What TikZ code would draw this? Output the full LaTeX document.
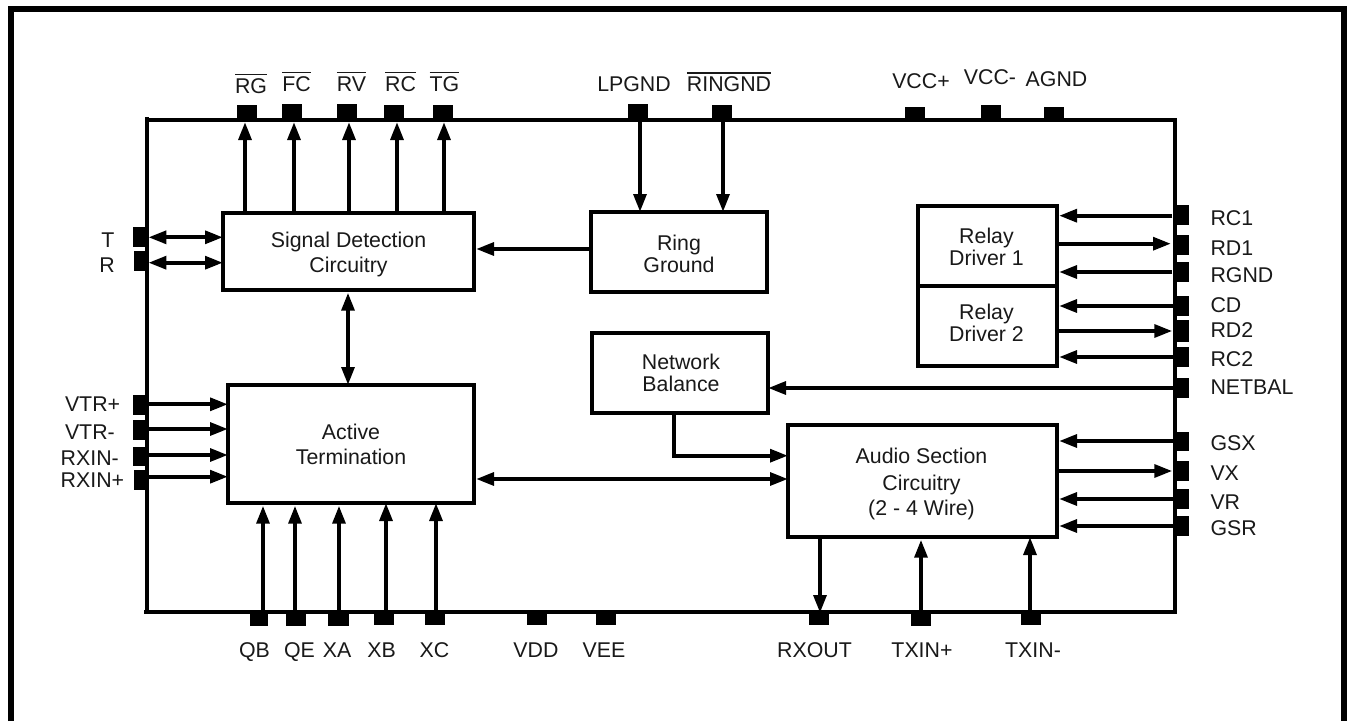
\documentclass[tikz,border=0pt]{standalone}
\usepackage{fontspec}
\setmainfont{Liberation Sans}
\usetikzlibrary{arrows.meta,calc}
\newcommand{\ovl}[1]{\vbox{\hrule height 0.85pt\kern 2.3pt\hbox{#1}}}
\tikzset{
  x=0.75pt,y=-0.75pt,
  every node/.style={font=\fontsize{16}{18.8}\selectfont,text=black!90,align=center,inner sep=0pt,outer sep=0pt},
  tight/.style={font=\fontsize{16}{16.5}\selectfont},
  block/.style={draw=black,line width=3pt,fill=white,anchor=north west},
  pinbox/.style={fill=black,draw=none,minimum width=0pt,minimum height=0pt,anchor=north west},
  conn/.style={line width=3pt,draw=black},
  one/.style={conn,-{Triangle[length=13.5pt,width=9.5pt]}},
  oneg/.style={one,shorten >=1.5pt},
  two/.style={conn,{Triangle[length=13.5pt,width=9.5pt]}-{Triangle[length=13.5pt,width=9.5pt]}},
}
\newcommand{\pinat}[5]{\node[pinbox,minimum width=#4*0.75pt,minimum height=#5*0.75pt] (#1) at (#2,#3) {};}
\newcommand{\blk}[5]{\node[block,minimum width=#4*0.75pt,minimum height=#5*0.75pt] (#1) at (#2,#3) {};}
\begin{document}
\begin{tikzpicture}
\useasboundingbox (0,0) rectangle (1349,721);
\fill[white] (0,0) rectangle (1349,721);
% outer frame
\draw[line width=4.5pt,draw=black] (11,721) -- (11,9) -- (1344,9) -- (1344,721);
% chip outline
\draw[line width=3pt] (145,120) -- (1177,120);
\draw[line width=3pt] (144,612) -- (1177,612);
\draw[line width=3pt] (147,117) -- (147,614);
\draw[line width=3pt] (1175,118) -- (1175,614);
% blocks
\blk{sd}{223}{213}{251}{77}
\blk{rg}{591}{212}{176}{80}
\blk{at}{228}{385}{246}{118}
\blk{nb}{592}{333}{176}{80}
\blk{as}{788}{425}{269}{112}
\blk{ra}{918}{206}{139}{80}
\blk{rb}{918}{286}{139}{80}
\node (tsd) at ([yshift=-2.6*0.75pt]sd.center) {Signal Detection\\Circuitry};
\node[tight] (trg) at ([yshift=-1.7*0.75pt]rg.center) {Ring\\Ground};
\node (tat) at ([yshift=-0.4*0.75pt]at.center) {Active\\Termination};
\node[tight] (tnb) at ([xshift=0.75pt,yshift=-0.3*0.75pt]nb.center) {Network\\Balance};
\node (tas) at ([xshift=-0.75pt,yshift=-3*0.75pt]as.center) {Audio Section\\[1.5pt]Circuitry\\(2 - 4 Wire)};
\node[tight] (tra) at ([xshift=-0.75pt,yshift=-1*0.75pt]ra.center) {Relay\\Driver 1};
\node[tight] (trb) at ([xshift=-0.75pt,yshift=3*0.75pt]rb.center) {Relay\\Driver 2};
% top pins
\pinat{pRG}{237}{105}{20}{15}
\pinat{pFC}{282}{104}{20}{16}
\pinat{pRV}{337}{104}{20}{16}
\pinat{pRC}{384}{105}{20}{15}
\pinat{pTG}{433}{105}{20}{15}
\pinat{pLP}{628}{104}{20}{16}
\pinat{pRN}{712}{105}{20}{15}
\pinat{pVP}{905}{107}{20}{13}
\pinat{pVM}{981}{105}{20}{15}
\pinat{pAG}{1044}{107}{20}{13}
% left pins
\pinat{pT}{133}{227}{14}{20}
\pinat{pR}{134}{251}{13}{20}
\pinat{pVa}{133}{395}{14}{20}
\pinat{pVb}{133}{420}{14}{20}
\pinat{pXm}{133}{447}{14}{19}
\pinat{pXp}{134}{470}{13}{20}
% bottom pins
\pinat{pQB}{250}{613}{18}{13}
\pinat{pQE}{286}{613}{20}{13}
\pinat{pXA}{328}{613}{21}{13}
\pinat{pXB}{374}{613}{20}{12}
\pinat{pXC}{425}{613}{20}{12}
\pinat{pVD}{527}{612}{20}{13}
\pinat{pVE}{596}{612}{20}{13}
\pinat{pRO}{809}{613}{20}{12}
\pinat{pTP}{911}{613}{20}{13}
\pinat{pTM}{1021}{613}{20}{12}
% right pins
\pinat{pC1}{1175}{205}{14}{20}
\pinat{pD1}{1175}{235}{14}{20}
\pinat{pGN}{1175}{262}{14}{20}
\pinat{pCD}{1175}{296}{14}{20}
\pinat{pD2}{1175}{320}{14}{22}
\pinat{pC2}{1175}{347}{14}{20}
\pinat{pNB}{1175}{378}{14}{20}
\pinat{pGX}{1175}{432}{14}{19}
\pinat{pVX}{1175}{461}{14}{20}
\pinat{pVR}{1175}{489}{14}{20}
\pinat{pGR}{1175}{516}{14}{20}
% top labels
\node[anchor=base] (lRG) at (251,93) {\ovl{RG}};
\node[anchor=base] (lFC) at (296.5,91) {\ovl{FC}};
\node[anchor=base] (lRV) at (351.5,91) {\ovl{RV}};
\node[anchor=base] (lRC) at (400.5,91) {\ovl{RC}};
\node[anchor=base] (lTG) at (444.5,91) {\ovl{TG}};
\node[anchor=base] (lLP) at (634,91) {LPGND};
\node[anchor=base] (lRN) at (729,91.5) {\ovl{RINGND}};
\node[anchor=base] (lVP) at (921,88) {VCC+};
\node[anchor=base] (lVM) at (990,84.5) {VCC-};
\node[anchor=base] (lAG) at (1056.5,86) {AGND};
% left labels
\node[anchor=base] (lT) at (108,247) {T};
\node[anchor=base] (lR) at (107,272) {R};
\node[anchor=base west] (lVa) at (65,411) {VTR+};
\node[anchor=base west] (lVb) at (65,439) {VTR-};
\node[anchor=base west] (lXm) at (60.7,465.7) {RXIN-};
\node[anchor=base west] (lXp) at (60.7,487.7) {RXIN+};
% bottom labels
\node[anchor=base] (lQB) at (254.5,657) {QB};
\node[anchor=base] (lQE) at (299.5,657) {QE};
\node[anchor=base] (lXA) at (337,657) {XA};
\node[anchor=base] (lXB) at (381.5,657) {XB};
\node[anchor=base] (lXC) at (434.5,657) {XC};
\node[anchor=base] (lVD) at (536,657) {VDD};
\node[anchor=base] (lVE) at (604,657) {VEE};
\node[anchor=base] (lRO) at (814.5,657) {RXOUT};
\node[anchor=base] (lTP) at (922,657) {TXIN+};
\node[anchor=base] (lTM) at (1033,657) {TXIN-};
% right labels
\node[anchor=base west] (lC1) at (1210.5,225) {RC1};
\node[anchor=base west] (lD1) at (1210.5,255) {RD1};
\node[anchor=base west] (lGN) at (1210.5,282.5) {RGND};
\node[anchor=base west] (lCD) at (1210.5,312.7) {CD};
\node[anchor=base west] (lD2) at (1210.5,337.7) {RD2};
\node[anchor=base west] (lC2) at (1210.5,366.7) {RC2};
\node[anchor=base west] (lNB) at (1210.5,394) {NETBAL};
\node[anchor=base west] (lGX) at (1210.5,450) {GSX};
\node[anchor=base west] (lVX) at (1210.5,480.7) {VX};
\node[anchor=base west] (lVR) at (1210.5,509) {VR};
\node[anchor=base west] (lGR) at (1210.5,535.7) {GSR};
% SD up connectors
\coordinate (cRG) at (245,122);
\coordinate (cFC) at (294,122);
\coordinate (cRV) at (349,122);
\coordinate (cRC) at (397,122);
\coordinate (cTG) at (444,122);
\foreach \c in {cRG,cFC,cRV,cRC,cTG} \draw[one] (sd.north -| \c) -- (\c);
% T R
\coordinate (yT) at (190,237.3);
\coordinate (yR) at (190,262.7);
\draw[two,shorten <=1pt] (pT.east |- yT) -- (sd.west |- yT);
\draw[two,shorten <=1pt] (pR.east |- yR) -- (sd.west |- yR);
% ring ground
\coordinate (cLP) at (640,150);
\coordinate (cRN) at (723,150);
\coordinate (cRS) at (530,249);
\draw[one] (pLP.south -| cLP) -- (rg.north -| cLP);
\draw[one] (pRN.south -| cRN) -- (rg.north -| cRN);
\draw[oneg] (rg.west |- cRS) -- (sd.east |- cRS);
% SD - AT
\coordinate (cSA) at (348,340);
\draw[two,shorten <=2pt] (sd.south -| cSA) -- (at.north -| cSA);
% left inputs
\coordinate (yVa) at (190,404.3);
\coordinate (yVb) at (190,429);
\coordinate (yXm) at (190,455);
\coordinate (yXp) at (190,476.7);
\draw[one] (pVa.east |- yVa) -- (at.west |- yVa);
\draw[one] (pVb.east |- yVb) -- (at.west |- yVb);
\draw[one] (pXm.east |- yXm) -- (at.west |- yXm);
\draw[one] (pXp.east |- yXp) -- (at.west |- yXp);
% bottom inputs
\coordinate (cQB) at (263,612);
\coordinate (cQE) at (295,612);
\coordinate (cXA) at (339,612);
\coordinate (cXB) at (386,612);
\coordinate (cXC) at (436,612);
\draw[one,shorten >=2pt] (cQB) -- (at.south -| cQB);
\draw[one,shorten >=2pt] (cQE) -- (at.south -| cQE);
\draw[one,shorten >=2pt] (cXA) -- (at.south -| cXA);
\draw[one] (cXB) -- (at.south -| cXB);
\draw[one] (cXC) -- (at.south -| cXC);
% audio
\coordinate (cRO) at (820,613);
\coordinate (cTP) at (921,612);
\coordinate (cTM) at (1030,612);
\draw[one] (as.south -| cRO) -- (cRO);
\draw[one,shorten >=2pt] (cTP) -- (as.south -| cTP);
\draw[one] (cTM) -- (as.south -| cTM);
\coordinate (cAA) at (600,479);
\draw[two,shorten <=1.5pt] (at.east |- cAA) -- (as.west |- cAA);
\coordinate (cNB) at (674,455.7);
\draw[one,line join=miter] (nb.south -| cNB) -- (cNB) -- (as.west |- cNB);
\draw[one] (pNB.west) -- (pNB.west -| nb.east);
% relay
\coordinate (yC1) at (1100,215.7);
\coordinate (yD1) at (1100,243.7);
\coordinate (yGN) at (1100,272);
\coordinate (yCD) at (1100,306);
\coordinate (yD2) at (1100,331);
\coordinate (yC2) at (1100,357);
\coordinate (yGX) at (1100,441);
\coordinate (yVX) at (1100,471);
\coordinate (yVR) at (1100,499);
\coordinate (yGR) at (1100,526);
\draw[oneg,shorten <=2pt] (pC1.west |- yC1) -- (ra.east |- yC1);
\draw[one,shorten >=3pt] (ra.east |- yD1) -- (pD1.west |- yD1);
\draw[oneg,shorten <=2pt] (pGN.west |- yGN) -- (ra.east |- yGN);
\draw[oneg] (pCD.west |- yCD) -- (rb.east |- yCD);
\draw[one,shorten >=2pt] (rb.east |- yD2) -- (pD2.west |- yD2);
\draw[oneg] (pC2.west |- yC2) -- (rb.east |- yC2);
\draw[oneg] (pGX.west |- yGX) -- (as.east |- yGX);
\draw[one,shorten >=2pt] (as.east |- yVX) -- (pVX.west |- yVX);
\draw[oneg] (pVR.west |- yVR) -- (as.east |- yVR);
\draw[oneg] (pGR.west |- yGR) -- (as.east |- yGR);
\end{tikzpicture}
\end{document}
